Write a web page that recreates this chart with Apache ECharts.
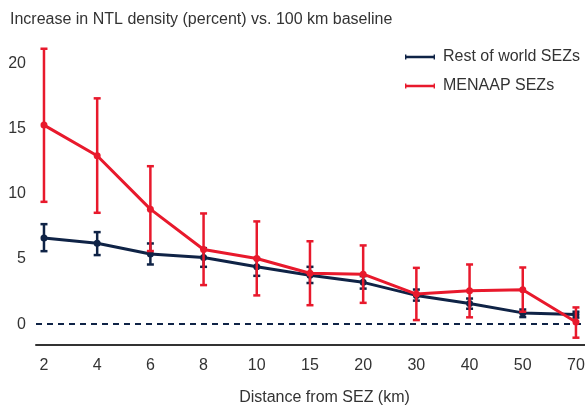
<!DOCTYPE html>
<html>
<head>
<meta charset="utf-8">
<script src="https://cdn.jsdelivr.net/npm/echarts@6/dist/echarts.min.js"></script>
<style>
  html, body { margin: 0; padding: 0; background: #fff; }
  #chart { width: 585px; height: 407px; }
</style>
</head>
<body>
<div id="chart"></div>
<script>
// Distance bands from the SEZ (km)
const categories = ['2', '4', '6', '8', '10', '15', '20', '30', '40', '50', '70'];

// Rest of world SEZs: point estimate and confidence interval
const rowMean = [6.6, 6.2, 5.38, 5.11, 4.39, 3.75, 3.2, 2.2, 1.58, 0.86, 0.74];
const rowLow  = [5.59, 5.29, 4.57, 4.39, 3.7, 3.15, 2.72, 1.8, 1.18, 0.54, 0.5];
const rowHigh = [7.66, 7.05, 6.18, 5.82, 5.06, 4.39, 3.68, 2.65, 1.96, 1.12, 0.95];

// MENAAP SEZs: point estimate and confidence interval
const menaMean = [15.25, 12.9, 8.81, 5.72, 5.03, 3.9, 3.83, 2.3, 2.56, 2.64, 0.16];
const menaLow  = [9.37, 8.53, 5.6, 2.99, 2.2, 1.45, 1.63, 0.31, 0.52, 0.95, -1.04];
const menaHigh = [21.1, 17.3, 12.1, 8.48, 7.87, 6.35, 6.03, 4.31, 4.57, 4.34, 1.28];

const yTicks = [0, 5, 10, 15, 20];

const NAVY = '#0f2346';
const RED = '#e8192c';
const TEXT = '#333333';
const FONT = '"Liberation Sans", Arial, sans-serif';

const toPoints = arr => arr.map((v, i) => [i, v]);
const toBars = (lo, hi) => lo.map((v, i) => [i, v, hi[i]]);

function errorBar(color) {
  return function (params, api) {
    const x = api.value(0);
    const top = api.coord([x, api.value(2)]);
    const bot = api.coord([x, api.value(1)]);
    const half = 3.5;
    const style = { stroke: color, lineWidth: 2.5 };
    return {
      type: 'group',
      children: [
        { type: 'line', shape: { x1: top[0], y1: top[1], x2: bot[0], y2: bot[1] }, style },
        { type: 'line', shape: { x1: top[0] - half, y1: top[1], x2: top[0] + half, y2: top[1] }, style },
        { type: 'line', shape: { x1: bot[0] - half, y1: bot[1], x2: bot[0] + half, y2: bot[1] }, style }
      ]
    };
  };
}

const legendIcon = 'path://M0,1.3H30V3.7H0Z M0,0H1.4V5H0Z M28.6,0H30V5H28.6Z';

const chart = echarts.init(document.getElementById('chart'), null, { renderer: 'canvas' });
chart.setOption({
  animation: false,
  backgroundColor: '#ffffff',
  textStyle: { fontFamily: FONT, color: TEXT },
  title: {
    text: 'Increase in NTL density (percent) vs. 100 km baseline',
    left: 10,
    top: 12,
    padding: 0,
    textStyle: { fontFamily: FONT, fontSize: 16, fontWeight: 'normal', color: TEXT }
  },
  legend: {
    orient: 'vertical',
    left: 405,
    top: 49,
    itemWidth: 30,
    itemHeight: 5,
    itemGap: 13,
    padding: 0,
    data: [
      { name: 'Rest of world SEZs', icon: legendIcon, itemStyle: { color: NAVY } },
      { name: 'MENAAP SEZs', icon: legendIcon, itemStyle: { color: RED } }
    ],
    textStyle: { fontFamily: FONT, fontSize: 16, color: TEXT, padding: [0, 0, 0, 3] }
  },
  grid: { left: 36, right: 0, top: 37, bottom: 62, outerBoundsMode: 'none' },
  xAxis: {
    type: 'value',
    min: -0.15,
    max: 10.17,
    axisLine: { show: true, onZero: false, lineStyle: { color: '#333333', width: 2 } },
    axisTick: { show: false },
    splitLine: { show: false },
    axisLabel: {
      customValues: categories.map((c, i) => i),
      formatter: v => categories[v],
      margin: 13,
      fontFamily: FONT,
      fontSize: 16,
      color: TEXT
    },
    name: 'Distance from SEZ (km)',
    nameLocation: 'middle',
    nameGap: 45,
    nameTextStyle: { fontFamily: FONT, fontSize: 16, color: TEXT, padding: [0, 0, 0, 28] }
  },
  yAxis: {
    type: 'value',
    min: -1.6,
    max: 22,
    axisLine: { show: false },
    axisTick: { show: false },
    splitLine: { show: false },
    axisLabel: {
      customValues: yTicks,
      margin: 10,
      fontFamily: FONT,
      fontSize: 16,
      color: TEXT
    }
  },
  series: [
    {
      name: 'Rest of world SEZs',
      type: 'custom',
      renderItem: errorBar(NAVY),
      data: toBars(rowLow, rowHigh),
      itemStyle: { color: NAVY },
      z: 2,
      silent: true
    },
    {
      name: 'Rest of world SEZs',
      type: 'line',
      data: toPoints(rowMean),
      color: NAVY,
      symbol: 'circle',
      symbolSize: 7,
      lineStyle: { width: 3, color: NAVY },
      itemStyle: { color: NAVY },
      z: 3,
      markLine: {
        silent: true,
        symbol: 'none',
        label: { show: false },
        lineStyle: { color: NAVY, width: 2, type: [6, 5] },
        data: [{ yAxis: 0 }]
      }
    },
    {
      name: 'MENAAP SEZs',
      type: 'custom',
      renderItem: errorBar(RED),
      data: toBars(menaLow, menaHigh),
      itemStyle: { color: RED },
      z: 4,
      silent: true
    },
    {
      name: 'MENAAP SEZs',
      type: 'line',
      data: toPoints(menaMean),
      color: RED,
      symbol: 'circle',
      symbolSize: 7,
      lineStyle: { width: 3, color: RED },
      itemStyle: { color: RED },
      z: 5
    }
  ]
});
</script>
</body>
</html>
